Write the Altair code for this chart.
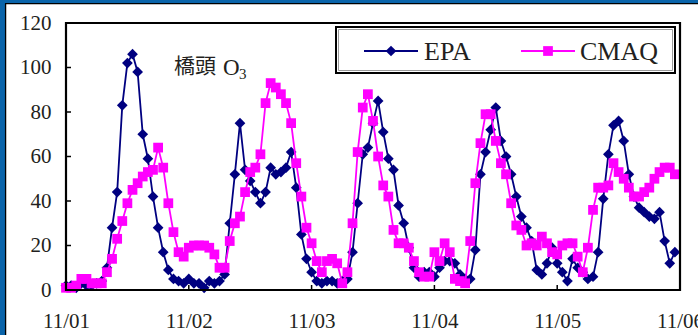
import json
import altair as alt
import pandas as pd

# ---------------- data ----------------
hours = list(range(120))  # hourly, 11/01 00h .. 11/05 23h

epa = [2, 2, 1, 3, 2, 2, 3, 4,
       10, 28, 44, 83, 102, 106, 98, 70,
       59, 42, 28, 17, 9, 5, 4, 3,
       5, 3, 3, 1, 4, 3, 4, 7,
       30, 52, 75, 54, 49, 44, 39, 44,
       55, 52, 53, 55, 62, 46, 25, 14,
       8, 4, 3, 4, 4, 3, 4, 5,
       17, 39, 61, 64, 75, 85, 71, 59,
       54, 38, 30, 19, 10, 6, 8, 8,
       6, 10, 13, 13, 12, 7, 5, 5,
       18, 52, 62, 72, 82, 67, 60, 52,
       42, 33, 28, 22, 9, 7, 12, 19,
       12, 8, 4, 14, 10, 8, 5, 6,
       17, 41, 61, 74, 76, 67, 52, 42,
       37, 35, 33, 32, 35, 22, 12, 17]

cmaq = [1, 1, 2, 5, 5, 3, 3, 3,
        8, 14, 23, 31, 39, 45, 48, 51,
        53, 54, 64, 55, 39, 26, 17, 15,
        19, 20, 20, 20, 19, 16, 10, 10,
        22, 30, 33, 44, 53, 55, 61, 84,
        93, 91, 88, 84, 75, 57, 42, 28,
        21, 13, 8, 13, 14, 12, 3, 8,
        30, 62, 82, 88, 76, 60, 47, 42,
        27, 21, 21, 19, 13, 8, 6, 6,
        17, 13, 21, 17, 5, 4, 3, 22,
        48, 66, 79, 79, 67, 57, 52, 39,
        29, 27, 20, 21, 20, 24, 21, 17,
        16, 20, 21, 21, 15, 8, 19, 36,
        46, 46, 47, 57, 53, 50, 46, 42,
        42, 44, 46, 50, 53, 55, 55, 52]

day_labels = ["11/01", "11/02", "11/03", "11/04", "11/05", "11/06"]
day_ticks = [0, 24, 48, 72, 96, 120]
y_ticks = [0, 20, 40, 60, 80, 100, 120]
series_names = ["EPA", "CMAQ"]
station = "橋頭"

N = len(hours)
df = pd.DataFrame({
    "hour": hours + hours,
    "value": epa + cmaq,
    "series": [series_names[0]] * N + [series_names[1]] * N,
})

# ---------------- style ----------------
W, H = 614, 267
NAVY = "#000080"
MAGENTA = "#ff00ff"
TXT = "#231f20"
SERIF = "Liberation Serif"
BLUE = "#0a64aa"

xscale = alt.Scale(domain=[0, 120], nice=False, zero=False)
yscale = alt.Scale(domain=[0, 120], nice=False)
label_expr = json.dumps(day_labels) + "[round(datum.value / 24)]"

x_axis = alt.Axis(values=day_ticks, labelExpr=label_expr, title=None,
                  domain=False, ticks=False, grid=False,
                  labelFont=SERIF, labelFontSize=21, labelColor=TXT,
                  labelPadding=20, labelFlush=False, labelOverlap=False,
                  zindex=1)
y_axis = alt.Axis(values=y_ticks, title=None, domain=False, ticks=False,
                  grid=False, labelFont=SERIF, labelFontSize=21,
                  labelColor=TXT, labelPadding=15, labelOverlap=False,
                  zindex=1)

X = alt.X("hour:Q", scale=xscale, axis=x_axis)
Y = alt.Y("value:Q", scale=yscale, axis=y_axis)

one = pd.DataFrame({"k": [0]})

# blue page edge (left and top) with a thin black inner line
edge_left = alt.Chart(one).mark_rect(fill=BLUE).encode(
    x=alt.value(-66), x2=alt.value(-61), y=alt.value(-23), y2=alt.value(H + 45))
edge_top = alt.Chart(one).mark_rect(fill=BLUE).encode(
    x=alt.value(-66), x2=alt.value(W + 18), y=alt.value(-23), y2=alt.value(-20))
edge_line_v = alt.Chart(one).mark_rule(color="black", strokeWidth=1.3).encode(
    x=alt.value(-60.4), y=alt.value(-20), y2=alt.value(H + 45))
edge_line_h = alt.Chart(one).mark_rule(color="black", strokeWidth=1.3).encode(
    x=alt.value(-61), x2=alt.value(W + 18), y=alt.value(-19.4))

base = alt.Chart(df).encode(x=X, y=Y)

epa_line = base.transform_filter(alt.datum.series == "EPA").mark_line(
    color=NAVY, strokeWidth=1.8)
epa_pts = base.transform_filter(alt.datum.series == "EPA").mark_point(
    shape="diamond", filled=True, size=115, color=NAVY, opacity=1)
cmaq_line = base.transform_filter(alt.datum.series == "CMAQ").mark_line(
    color=MAGENTA, strokeWidth=1.8)
cmaq_pts = base.transform_filter(alt.datum.series == "CMAQ").mark_point(
    shape="square", filled=True, size=95, color=MAGENTA, opacity=1)

# inward tick marks
ytk = alt.Chart(pd.DataFrame({"value": y_ticks[1:-1]})).mark_rule(
    color="black", strokeWidth=1.5).encode(
    y=Y, x=alt.value(0), x2=alt.value(5))
xtk = alt.Chart(pd.DataFrame({"hour": day_ticks[1:-1]})).mark_rule(
    color="black", strokeWidth=1.5).encode(
    x=X, y=alt.value(H), y2=alt.value(H - 5))

frame = alt.Chart(one).mark_rect(fill="transparent", stroke="black", strokeWidth=2.2).encode(
    x=alt.value(0), x2=alt.value(W), y=alt.value(0), y2=alt.value(H))

# annotation
ann1 = alt.Chart(one).mark_text(text=station, font="Noto Sans CJK TC", fontSize=21,
                                align="left", baseline="middle", color=TXT).encode(
    x=alt.value(108), y=alt.value(44))
ann2 = alt.Chart(one).mark_text(text="O", font=SERIF, fontSize=23,
                                align="left", baseline="middle", color=TXT).encode(
    x=alt.value(157), y=alt.value(45))
ann3 = alt.Chart(one).mark_text(text="3", font=SERIF, fontSize=15,
                                align="left", baseline="middle", color=TXT).encode(
    x=alt.value(173), y=alt.value(51))

# legend
lg_box = alt.Chart(one).mark_rect(fill="white", stroke="black", strokeWidth=2).encode(
    x=alt.value(270), x2=alt.value(609), y=alt.value(4), y2=alt.value(50))
lg_inner = alt.Chart(one).mark_rect(fill="transparent", stroke="#9a9a9a", strokeWidth=1).encode(
    x=alt.value(272.5), x2=alt.value(606.5), y=alt.value(6.5), y2=alt.value(47.5))
LY = 28
lg_l1 = alt.Chart(one).mark_rule(color=NAVY, strokeWidth=2).encode(
    x=alt.value(298), x2=alt.value(352), y=alt.value(LY))
lg_p1 = alt.Chart(one).mark_point(shape="diamond", filled=True, size=115, color=NAVY, opacity=1).encode(
    x=alt.value(325), y=alt.value(LY))
lg_t1 = alt.Chart(one).mark_text(text=series_names[0], font=SERIF, fontSize=26, align="left",
                                 baseline="middle", color=TXT).encode(x=alt.value(358), y=alt.value(LY + 1))
lg_l2 = alt.Chart(one).mark_rule(color=MAGENTA, strokeWidth=2).encode(
    x=alt.value(455), x2=alt.value(509), y=alt.value(LY))
lg_p2 = alt.Chart(one).mark_point(shape="square", filled=True, size=95, color=MAGENTA, opacity=1).encode(
    x=alt.value(482), y=alt.value(LY))
lg_t2 = alt.Chart(one).mark_text(text=series_names[1], font=SERIF, fontSize=26, align="left",
                                 baseline="middle", color=TXT).encode(x=alt.value(514), y=alt.value(LY + 1))

chart = alt.layer(
    edge_left, edge_top, edge_line_v, edge_line_h,
    epa_line, epa_pts, cmaq_line, cmaq_pts, ytk, xtk, frame,
    ann1, ann2, ann3, lg_box, lg_inner, lg_l1, lg_p1, lg_t1, lg_l2, lg_p2, lg_t2,
).properties(
    width=W, height=H,
    padding={"left": 66, "top": 23, "right": 18, "bottom": 45},
    autosize=alt.AutoSizeParams(type="none"),
).configure(
    background="white",
).configure_view(
    strokeWidth=0,
)

chart.save("out.html", embed_options={"renderer": "svg", "actions": False})
